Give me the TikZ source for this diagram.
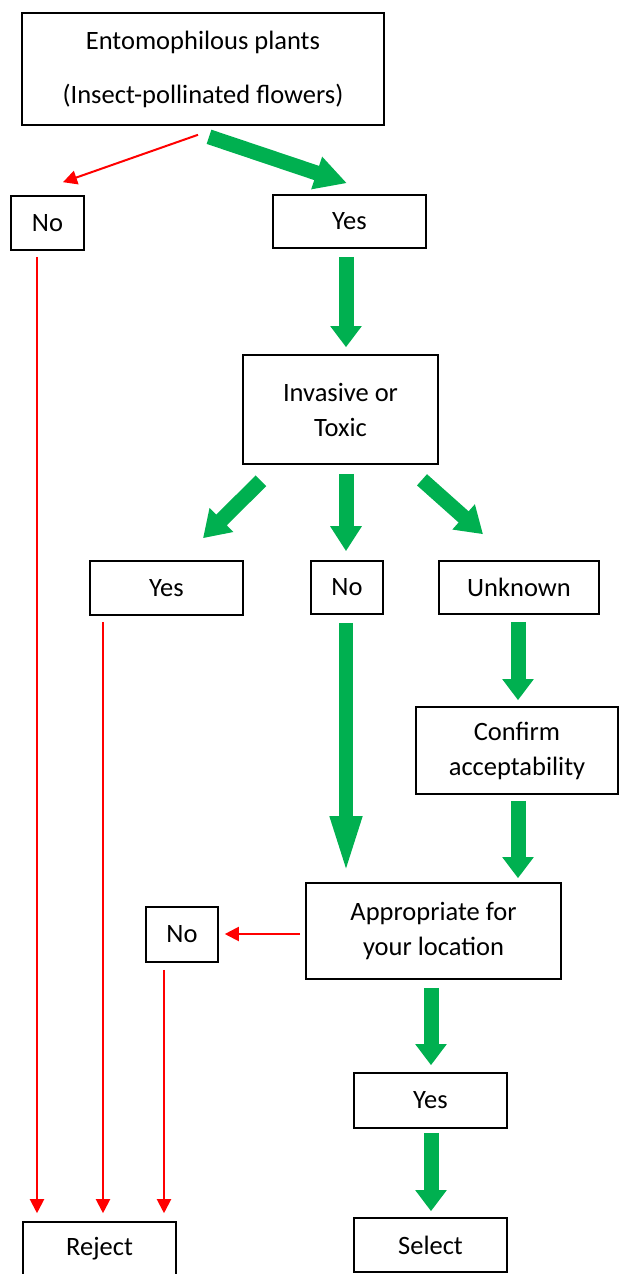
\documentclass[tikz,border=0pt]{standalone}
\usepackage{fontspec}
\setmainfont{Carlito}
\usetikzlibrary{arrows.meta,calc}
\definecolor{ogreen}{HTML}{00B050}
\definecolor{ored}{HTML}{FF0000}
\begin{document}
\begin{tikzpicture}[x=1pt,y=-1pt,
  box/.style={draw=black,line width=1.6pt,inner sep=0pt,align=center,
    font=\fontsize{26.5}{35}\selectfont},
  garrow/.style={draw=ogreen,line width=15pt,-{Triangle[width=30pt,length=21pt]}},
  rarrow/.style={draw=ored,line width=2pt,-{Triangle[width=14pt,length=14pt]}}]
\useasboundingbox (0,0) rectangle (619,1274);
% boxes
\node[box,minimum width=362pt,minimum height=112pt,font=\fontsize{26.5}{54}\selectfont] (top) at (203,69) {Entomophilous plants\\(Insect-pollinated flowers)};
\node[box,minimum width=73pt,minimum height=54pt] (no1) at (47.5,223) {No};
\node[box,minimum width=153pt,minimum height=53pt] (yes1) at (349.5,221.5) {Yes};
\node[box,minimum width=195pt,minimum height=109pt] (inv) at (340.5,409.5) {Invasive or\\Toxic};
\node[box,minimum width=153pt,minimum height=54pt] (yes2) at (166.5,588) {Yes};
\node[box,minimum width=72pt,minimum height=53pt] (no2) at (347,587.5) {No};
\node[box,minimum width=160pt,minimum height=53pt] (unk) at (519,587.5) {Unknown};
\node[box,minimum width=202pt,minimum height=87pt] (conf) at (517,750.5) {Confirm\\acceptability};
\node[box,minimum width=255pt,minimum height=96pt] (appr) at (433.5,931) {Appropriate for\\your location};
\node[box,minimum width=72pt,minimum height=55pt] (no3) at (182,934.5) {No};
\node[box,minimum width=153pt,minimum height=55pt] (yes3) at (430.5,1100.5) {Yes};
\node[box,minimum width=153pt,minimum height=54pt] (rej) at (99.5,1249) {Reject};
\node[box,minimum width=153pt,minimum height=54pt] (sel) at (430.5,1245) {Select};
% red connectors
\draw[rarrow] ($(top.south)+(-5,9)$) -- ($(no1.north)+(15.5,-13)$);
\draw[rarrow] ($(no1.south)+(-10.5,6)$) -- ($(rej.north)+(-62.5,-8)$);
\draw[rarrow] ($(yes2.south)+(-63.5,6)$) -- ($(rej.north)+(3.5,-8)$);
\draw[rarrow] ($(appr.west)+(-5,3)$) -- ($(no3.east)+(6,-0.5)$);
\draw[rarrow] ($(no3.south)+(-18,7)$) -- ($(rej.north)+(64.5,-8)$);
% green connectors
\draw[garrow,-{Triangle[width=32pt,length=32pt]}] ($(top.south)+(6,11)$) -- ($(yes1.north)+(-2.5,-11)$);
\draw[garrow] ($(yes1.south)+(-3.5,8)$) -- ($(inv.north)+(5.5,-7)$);
\draw[garrow,-{Triangle[width=32pt,length=26pt]}] ($(inv.south)+(-79.5,16)$) -- ($(yes2.north)+(36.5,-22)$);
\draw[garrow,-{Triangle[width=30pt,length=25pt]}] ($(inv.south)+(5.5,9)$) -- ($(no2.north)+(-1,-9)$);
\draw[garrow,-{Triangle[width=32pt,length=26pt]}] ($(inv.south)+(81.5,15)$) -- ($(unk.north)+(-36,-26)$);
\draw[garrow,line width=14pt,-{Triangle[width=28pt,length=60pt]}] ($(no2.south)+(-1,8)$) -- ($(appr.north)+(-87.5,-6)$);
\draw[garrow] ($(unk.south)+(-1,7)$) -- ($(conf.north)+(1,-6)$);
\draw[garrow] ($(conf.south)+(1,6)$) -- ($(appr.north)+(84.5,-4)$);
\draw[garrow] ($(appr.south)+(-2.5,8)$) -- ($(yes3.north)+(0.5,-7)$);
\draw[garrow] ($(yes3.south)+(0.5,4)$) -- ($(sel.north)+(0.5,-6)$);
\end{tikzpicture}
\end{document}
